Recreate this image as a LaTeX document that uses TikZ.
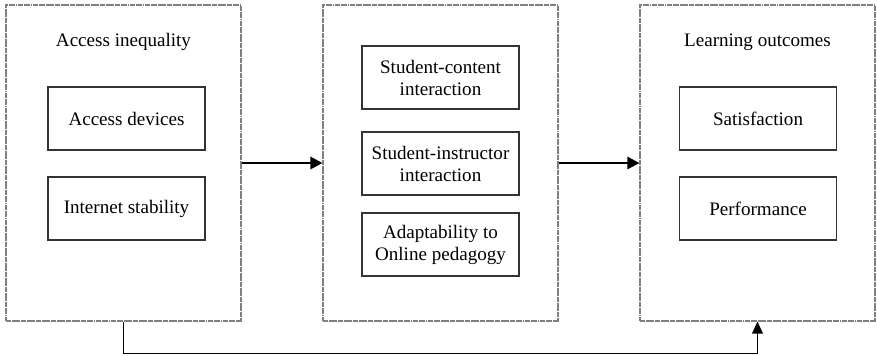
\documentclass[tikz,border=0pt]{standalone}
\usepackage{fontspec}
\setmainfont{Liberation Serif}
\usetikzlibrary{arrows.meta}

\tikzset{
  outerbox/.style={draw=gray, line width=0.8pt, dash pattern=on 4pt off 0.5pt on 0.6pt off 0.5pt,
    minimum width=176.25pt, minimum height=237pt, inner sep=0pt},
  innerbox/.style={draw=black!80, line width=0.8pt, minimum width=117.75pt, minimum height=47.25pt,
    align=center, inner sep=0pt},
  linkarrow/.style={line width=2pt, -{Triangle[length=9pt,width=9pt]}},
  backarrow/.style={line width=1.1pt, -{Triangle[length=9pt,width=8pt]}}
}

\begin{document}
\begin{tikzpicture}[x=0.75pt,y=-0.75pt,font=\fontsize{14.3}{16.5}\selectfont]

\useasboundingbox (0,0) rectangle (877,356);
	% outer blocks
	\node[outerbox] (access) at (123.5,163) {};
	\node[outerbox] (media) at (440.5,163) {};
	\node[outerbox] (outcome) at (757.5,163) {};
	% block titles
	\node (accesstitle) at (123.5,42) {Access inequality};
	\node (outcometitle) at (757.5,42) {Learning outcomes};
	% items
	\node[innerbox] (devices) at (126.5,118.5) {Access devices};
	\node[innerbox] (internet) at (126.5,208.5) {Internet stability};
	\node[innerbox] (content) at (440.5,77.5) {Student-content\\interaction};
	\node[innerbox] (instructor) at (440.5,163.5) {Student-instructor\\interaction};
	\node[innerbox] (adapt) at (440.5,244.5) {Adaptability to\\Online pedagogy};
	\node[innerbox] (satisf) at (758,118.5) {Satisfaction};
	\node[innerbox] (perform) at (758,208.5) {Performance};
	% links
	\draw[linkarrow] (access.east) -- (media.west);
	\draw[linkarrow] (media.east) -- (outcome.west);
	\draw[backarrow] (access.south) -- ++(0,32) -| (outcome.south);

\end{tikzpicture}
\end{document}
